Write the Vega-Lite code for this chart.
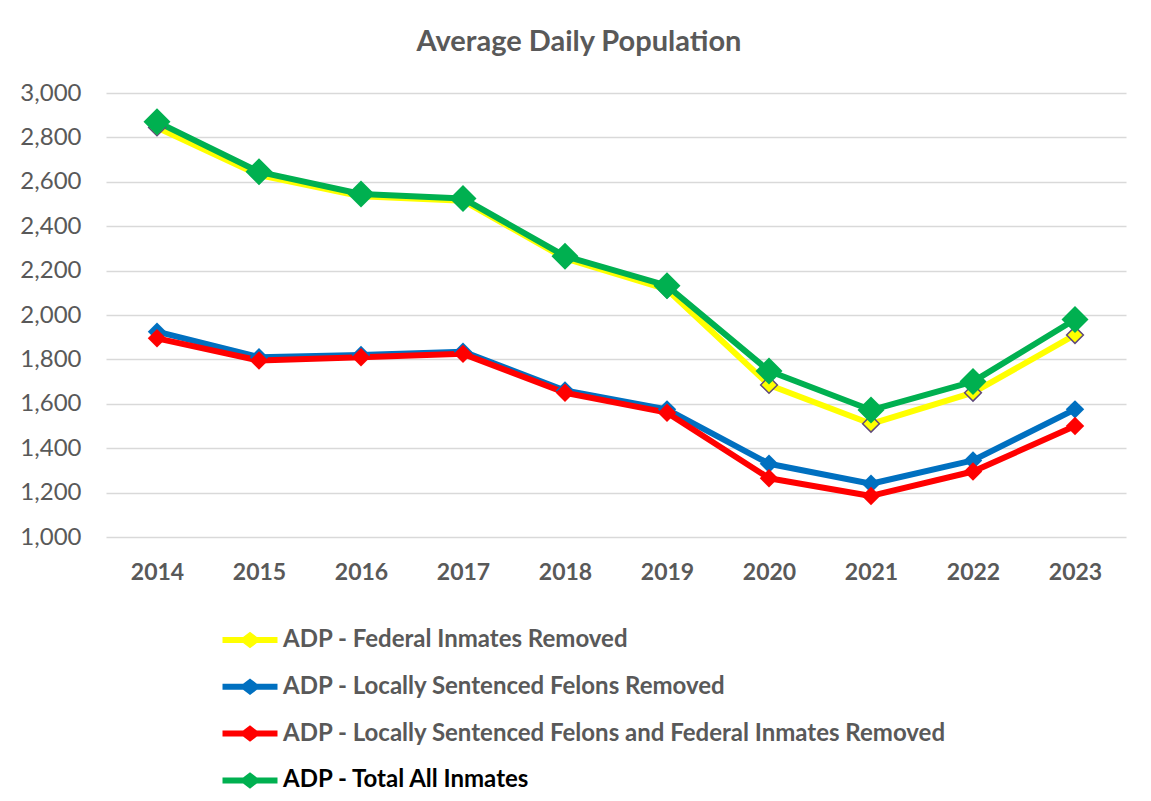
{
  "$schema": "https://vega.github.io/schema/vega-lite/v6.json",
  "width": 1020,
  "height": 444,
  "autosize": {"type": "none"},
  "padding": {"left": 106, "top": 93, "right": 25, "bottom": 264},
  "background": "#ffffff",
  "title": {
    "text": "Average Daily Population",
    "font": "Lato",
    "fontSize": 29,
    "fontWeight": "bold",
    "color": "#595959",
    "anchor": "middle",
    "dx": -37,
    "baseline": "alphabetic",
    "offset": 1
  },
  "data": {
    "values": [
      {"year": "2014", "series": "ADP - Federal Inmates Removed", "value": 2845},
      {"year": "2015", "series": "ADP - Federal Inmates Removed", "value": 2630},
      {"year": "2016", "series": "ADP - Federal Inmates Removed", "value": 2535},
      {"year": "2017", "series": "ADP - Federal Inmates Removed", "value": 2515},
      {"year": "2018", "series": "ADP - Federal Inmates Removed", "value": 2255},
      {"year": "2019", "series": "ADP - Federal Inmates Removed", "value": 2115},
      {"year": "2020", "series": "ADP - Federal Inmates Removed", "value": 1685},
      {"year": "2021", "series": "ADP - Federal Inmates Removed", "value": 1510},
      {"year": "2022", "series": "ADP - Federal Inmates Removed", "value": 1650},
      {"year": "2023", "series": "ADP - Federal Inmates Removed", "value": 1910},
      {"year": "2014", "series": "ADP - Locally Sentenced Felons Removed", "value": 1925},
      {"year": "2015", "series": "ADP - Locally Sentenced Felons Removed", "value": 1810},
      {"year": "2016", "series": "ADP - Locally Sentenced Felons Removed", "value": 1820},
      {"year": "2017", "series": "ADP - Locally Sentenced Felons Removed", "value": 1835},
      {"year": "2018", "series": "ADP - Locally Sentenced Felons Removed", "value": 1660},
      {"year": "2019", "series": "ADP - Locally Sentenced Felons Removed", "value": 1575},
      {"year": "2020", "series": "ADP - Locally Sentenced Felons Removed", "value": 1330},
      {"year": "2021", "series": "ADP - Locally Sentenced Felons Removed", "value": 1240},
      {"year": "2022", "series": "ADP - Locally Sentenced Felons Removed", "value": 1345},
      {"year": "2023", "series": "ADP - Locally Sentenced Felons Removed", "value": 1575},
      {"year": "2014", "series": "ADP - Locally Sentenced Felons and Federal Inmates Removed", "value": 1895},
      {"year": "2015", "series": "ADP - Locally Sentenced Felons and Federal Inmates Removed", "value": 1795},
      {"year": "2016", "series": "ADP - Locally Sentenced Felons and Federal Inmates Removed", "value": 1810},
      {"year": "2017", "series": "ADP - Locally Sentenced Felons and Federal Inmates Removed", "value": 1825},
      {"year": "2018", "series": "ADP - Locally Sentenced Felons and Federal Inmates Removed", "value": 1650},
      {"year": "2019", "series": "ADP - Locally Sentenced Felons and Federal Inmates Removed", "value": 1560},
      {"year": "2020", "series": "ADP - Locally Sentenced Felons and Federal Inmates Removed", "value": 1265},
      {"year": "2021", "series": "ADP - Locally Sentenced Felons and Federal Inmates Removed", "value": 1185},
      {"year": "2022", "series": "ADP - Locally Sentenced Felons and Federal Inmates Removed", "value": 1295},
      {"year": "2023", "series": "ADP - Locally Sentenced Felons and Federal Inmates Removed", "value": 1500},
      {"year": "2014", "series": "ADP - Total All Inmates", "value": 2870},
      {"year": "2015", "series": "ADP - Total All Inmates", "value": 2645},
      {"year": "2016", "series": "ADP - Total All Inmates", "value": 2545},
      {"year": "2017", "series": "ADP - Total All Inmates", "value": 2525},
      {"year": "2018", "series": "ADP - Total All Inmates", "value": 2265},
      {"year": "2019", "series": "ADP - Total All Inmates", "value": 2132},
      {"year": "2020", "series": "ADP - Total All Inmates", "value": 1748},
      {"year": "2021", "series": "ADP - Total All Inmates", "value": 1572},
      {"year": "2022", "series": "ADP - Total All Inmates", "value": 1700},
      {"year": "2023", "series": "ADP - Total All Inmates", "value": 1980}
    ]
  },
  "encoding": {
    "x": {
      "field": "year",
      "type": "ordinal",
      "scale": {"type": "point", "padding": 0.5},
      "axis": {
        "title": null,
        "labelAngle": 0,
        "labelFont": "Lato",
        "labelFontSize": 23,
        "labelFontWeight": "bold",
        "labelColor": "#595959",
        "labelPadding": 24,
        "ticks": false,
        "domain": false,
        "grid": false
      }
    },
    "y": {
      "field": "value",
      "type": "quantitative",
      "scale": {"domain": [1000, 3000], "nice": false, "zero": false},
      "axis": {
        "title": null,
        "values": [1000, 1200, 1400, 1600, 1800, 2000, 2200, 2400, 2600, 2800, 3000],
        "format": ",d",
        "labelFont": "Lato",
        "labelFontSize": 24,
        "labelColor": "#595959",
        "labelPadding": 25,
        "ticks": false,
        "domain": false,
        "grid": true,
        "gridColor": "#D9D9D9",
        "gridWidth": 1.5
      }
    },
    "color": {
      "field": "series",
      "type": "nominal",
      "scale": {
        "domain": ["ADP - Federal Inmates Removed", "ADP - Locally Sentenced Felons Removed", "ADP - Locally Sentenced Felons and Federal Inmates Removed", "ADP - Total All Inmates"],
        "range": ["#FFFF00", "#0070C0", "#FF0000", "#00B050"]
      },
      "legend": {
        "title": null,
        "orient": "none",
        "legendX": 130,
        "legendY": 533,
        "direction": "vertical",
        "padding": 0,
        "symbolType": "M-2,-0.22 L-0.5,-0.22 L0,-0.6 L0.5,-0.22 L2,-0.22 L2,0.22 L0.5,0.22 L0,0.6 L-0.5,0.22 L-2,0.22 Z",
        "symbolSize": 756,
        "symbolStrokeWidth": 0,
        "labelOffset": 19,
        "rowPadding": 20.8,
        "labelFont": "Lato",
        "labelFontSize": 24,
        "labelFontWeight": "bold",
        "labelColor": "#595959",
        "labelLimit": 1000,
        "encode": {
          "symbols": {"update": {"fill": {"scale": "color", "field": "value"}, "fillOpacity": {"value": 1}, "strokeWidth": {"value": 0}, "size": {"value": 756}}},
          "labels": {"update": {"fill": {"signal": "datum.label === 'ADP - Total All Inmates' ? '#000000' : '#595959'"}}}
        }
      }
    }
  },
  "layer": [
    {
      "mark": {"type": "line", "strokeWidth": 6, "strokeJoin": "round"},
      "encoding": {"detail": {"field": "series"}}
    },
    {
      "mark": {"type": "point", "shape": "diamond", "filled": true, "opacity": 1, "strokeWidth": 1.5},
      "encoding": {
        "size": {
          "condition": [
            {"test": "datum.series === 'ADP - Total All Inmates'", "value": 729},
            {"test": "datum.series === 'ADP - Federal Inmates Removed'", "value": 280}
          ],
          "value": 340
        },
        "stroke": {
          "condition": {"test": "datum.series === 'ADP - Federal Inmates Removed'", "value": "#604A7B"},
          "value": null
        }
      }
    }
  ],
  "config": {
    "view": {"stroke": null}
  }
}
